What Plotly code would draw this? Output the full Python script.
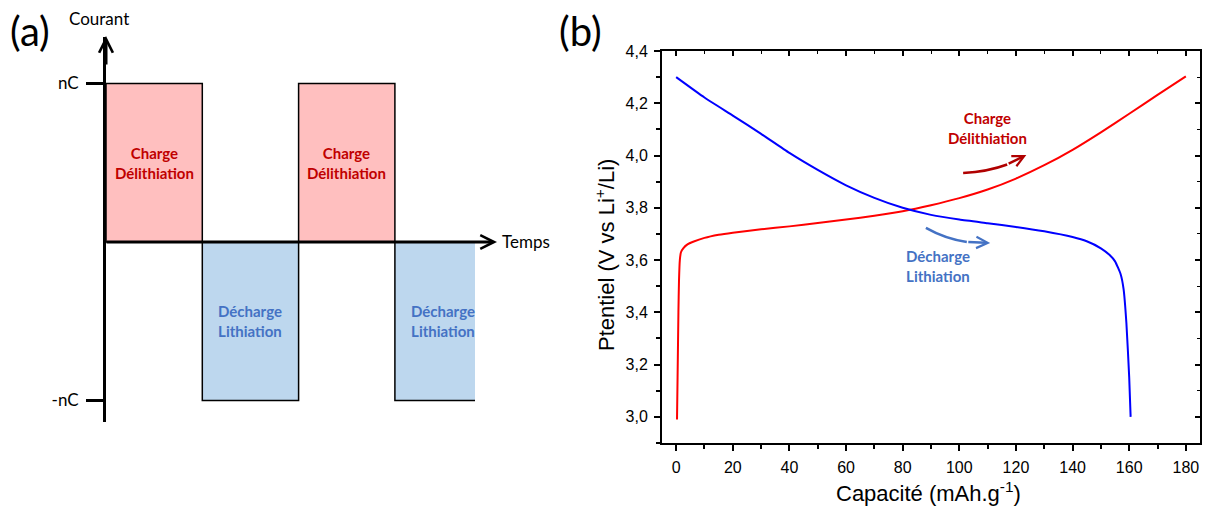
import plotly.graph_objects as go

# ---------------- data ----------------
# panel (a): current steps
step_names = ["Charge", "Décharge", "Charge", "Décharge"]
step_current = [1, -1, 1, -1]
step_labels = ["Charge<br>Délithiation", "Décharge<br>Lithiation",
               "Charge<br>Délithiation", "Décharge<br>Lithiation"]
current_ticks = [1, -1]
current_ticklabels = ["nC", "-nC"]

# panel (b): galvanostatic curves
charge_cap = [0.3, 0.5, 0.8, 1.0, 1.3, 1.7, 2.5, 4, 6, 10, 15, 20, 30, 40, 50, 60, 70, 80,
              90, 100, 110, 120, 130, 140, 150, 160, 170, 180]
charge_pot = [2.99, 3.15, 3.40, 3.52, 3.60, 3.63, 3.645, 3.66, 3.67, 3.685, 3.697, 3.705,
              3.718, 3.729, 3.742, 3.755, 3.77, 3.787, 3.81, 3.837, 3.870, 3.912, 3.963,
              4.022, 4.089, 4.160, 4.232, 4.303]
discharge_cap = [0, 10, 20, 30, 40, 50, 60, 70, 80, 90, 100, 110, 120, 130, 140, 145, 150,
                 153, 155, 157, 158, 159, 160, 160.5]
discharge_pot = [4.30, 4.222, 4.153, 4.083, 4.01, 3.945, 3.886, 3.838, 3.80, 3.773, 3.755,
                 3.741, 3.727, 3.71, 3.688, 3.672, 3.645, 3.62, 3.595, 3.545, 3.49, 3.36,
                 3.15, 3.0]

W, H = 1206, 507


def PX(px):
    return px / W


def PY(py):
    return 1 - py / H


CAL = "Lato"
ARI = "Liberation Sans, Arial, sans-serif"
RED_TXT = "#c00000"
BLUE_TXT = "#4472c4"

fig = go.Figure()

# ---------- panel (a) ----------
fig.add_trace(go.Bar(
    x=[i + 0.5 for i in range(len(step_current))],
    y=step_current, width=1,
    marker=dict(color=["#ffbfbf" if c > 0 else "#bdd7ee" for c in step_current],
                line=dict(color="black", width=1.5)),
    xaxis="x2", yaxis="y2", hoverinfo="skip", showlegend=False,
))

# ---------- panel (b) ----------
fig.add_trace(go.Scatter(x=charge_cap, y=charge_pot, mode="lines",
                         line=dict(color="#ff0000", width=2, shape="spline",
                                   smoothing=0.5),
                         showlegend=False))
fig.add_trace(go.Scatter(x=discharge_cap, y=discharge_pot, mode="lines",
                         line=dict(color="#0000ff", width=2, shape="spline",
                                   smoothing=0.5),
                         showlegend=False))
fig.add_trace(go.Scatter(x=[None], y=[None], xaxis="x3", yaxis="y3",
                         showlegend=False, hoverinfo="skip"))

x_lo, x_hi = -5, 185
y_lo, y_hi = 2.9, 4.4001

axis_common = dict(showgrid=False, zeroline=False, showline=True, linewidth=2,
                   linecolor="black", mirror=True, ticks="outside", ticklen=6,
                   tickwidth=2, tickcolor="black", automargin=False,
                   tickfont=dict(family=ARI, size=16, color="black"))

fig.update_layout(
    width=W, height=H, autosize=False,
    margin=dict(l=0, r=0, t=0, b=0, pad=0, autoexpand=False),
    paper_bgcolor="white", plot_bgcolor="white",
    separators=", ",
    showlegend=False,
    barmode="overlay",
    xaxis=dict(domain=[PX(662), PX(1200)], range=[x_lo, x_hi], anchor="y",
               tick0=0, dtick=20, ticklabelstandoff=3,
               minor=dict(dtick=10, ticks="outside", ticklen=4, tickwidth=1.5,
                          tickcolor="black"),
               **axis_common),
    yaxis=dict(domain=[PY(443), PY(51)], range=[y_lo, y_hi], anchor="x",
               tick0=3.0, dtick=0.2, tickformat=".1f", ticklabelstandoff=3,
               minor=dict(dtick=0.1, ticks="outside", ticklen=4, tickwidth=1.5,
                          tickcolor="black"),
               **axis_common),
    xaxis3=dict(overlaying="x", side="top", anchor="y", range=[x_lo, x_hi],
                showgrid=False, zeroline=False, showline=False, showticklabels=False,
                ticks="inside", ticklen=5, tickwidth=1.5, tickcolor="black",
                tick0=0, dtick=20, automargin=False,
                minor=dict(dtick=10, ticks="inside", ticklen=3, tickwidth=1.2,
                           tickcolor="black")),
    yaxis3=dict(overlaying="y", side="right", anchor="x", range=[y_lo, y_hi],
                showgrid=False, zeroline=False, showline=False, showticklabels=False,
                ticks="inside", ticklen=5, tickwidth=1.5, tickcolor="black",
                tick0=3.0, dtick=0.2, automargin=False,
                minor=dict(dtick=0.1, ticks="inside", ticklen=3, tickwidth=1.2,
                           tickcolor="black")),
    xaxis2=dict(domain=[PX(106), PX(475)], range=[0, (475 - 106) / 96.3], anchor="y2",
                visible=False, fixedrange=True, automargin=False),
    yaxis2=dict(domain=[PY(422), PY(37)],
                range=[-(422 - 242) / 158.5, (242 - 37) / 158.5], anchor="x2",
                showgrid=False, zeroline=False, showline=True, linewidth=3,
                linecolor="black", ticks="outside", ticklen=17, tickwidth=3,
                tickcolor="black", tickvals=current_ticks, ticktext=current_ticklabels,
                ticklabelstandoff=4, automargin=False,
                tickfont=dict(family=CAL, size=17, color="black")),
)


def txt(x, y, text, size, color="black", family=CAL, bold=False, xanchor="center",
        angle=0):
    return dict(xref="paper", yref="paper", x=PX(x), y=PY(y), text=text,
                xanchor=xanchor, yanchor="middle", showarrow=False, textangle=angle,
                font=dict(family=family, size=size, color=color,
                          weight="bold" if bold else "normal"))


ann = []
# panel (a) texts & arrows
ann.append(txt(30, 31, "(a)", 40))
ann.append(txt(580, 31, "(b)", 40))
ann.append(txt(99, 19, "Courant", 17))
ann.append(txt(500, 241, "Temps", 17, xanchor="left"))
# y axis arrow head (a)
ann.append(dict(xref="paper", yref="paper", x=PX(106), y=PY(36), text="",
                showarrow=True, ax=0, ay=30, arrowhead=5, arrowsize=0.9,
                arrowwidth=3, arrowcolor="black", standoff=0, startstandoff=0))
# x axis arrow (a)
ann.append(dict(xref="paper", yref="paper", x=PX(497), y=PY(242), text="",
                showarrow=True, ax=-(497 - 105), ay=0, arrowhead=5, arrowsize=0.9,
                arrowwidth=3, arrowcolor="black", standoff=0, startstandoff=0))
for i, (c, lab) in enumerate(zip(step_current, step_labels)):
    ann.append(dict(xref="x2", yref="y2", x=i + 0.5, y=c * 0.5, text=lab,
                    showarrow=False, xanchor="center", yanchor="middle",
                    font=dict(family=CAL, size=15, color=RED_TXT if c > 0 else BLUE_TXT,
                              weight="bold")))

# panel (b) axis titles
ann.append(txt(928, 492, "Capacité (mAh.g<sup>-1</sup>)", 22, family=ARI))
ann.append(txt(605, 255, "Ptentiel (V vs Li<sup>+</sup>/Li)", 22, family=ARI, angle=-90))

# panel (b) labels
ann.append(dict(xref="x", yref="y", x=109.9, y=4.104, text="Charge<br>Délithiation",
                showarrow=False, xanchor="center", yanchor="middle",
                font=dict(family=CAL, size=15, color=RED_TXT, weight="bold")))
ann.append(dict(xref="x", yref="y", x=92.5, y=3.579, text="Décharge<br>Lithiation",
                showarrow=False, xanchor="center", yanchor="middle",
                font=dict(family=CAL, size=15, color=BLUE_TXT, weight="bold")))

shapes = []
arrows = [
    ((101.35, 3.9333), (114.8, 3.9409), (123.67, 4.0021), "#b00000"),
    ((88.2, 3.7229), (98.87, 3.6578), (110.9, 3.6655), "#4472c4"),
]
T = 0.65
for (s, c, e, col) in arrows:
    # sub-curve of the quadratic bezier from 0 to T
    c1 = (s[0] + T * (c[0] - s[0]), s[1] + T * (c[1] - s[1]))
    bx = (1 - T) ** 2 * s[0] + 2 * (1 - T) * T * c[0] + T ** 2 * e[0]
    by = (1 - T) ** 2 * s[1] + 2 * (1 - T) * T * c[1] + T ** 2 * e[1]
    shapes.append(dict(type="path", xref="x", yref="y",
                       path=f"M {s[0]},{s[1]} Q {c1[0]},{c1[1]} {bx},{by}",
                       line=dict(color=col, width=2.5)))
    ann.append(dict(xref="x", yref="y", axref="x", ayref="y", x=e[0], y=e[1],
                    ax=bx, ay=by, text="", showarrow=True, arrowhead=5, arrowsize=0.9,
                    arrowwidth=2.5, arrowcolor=col, standoff=0))

fig.update_layout(annotations=ann, shapes=shapes)

fig.write_html("out.html",
               config={"displayModeBar": False},
               post_script="document.body.style.margin='0';"
                           "document.body.style.overflow='hidden';")
